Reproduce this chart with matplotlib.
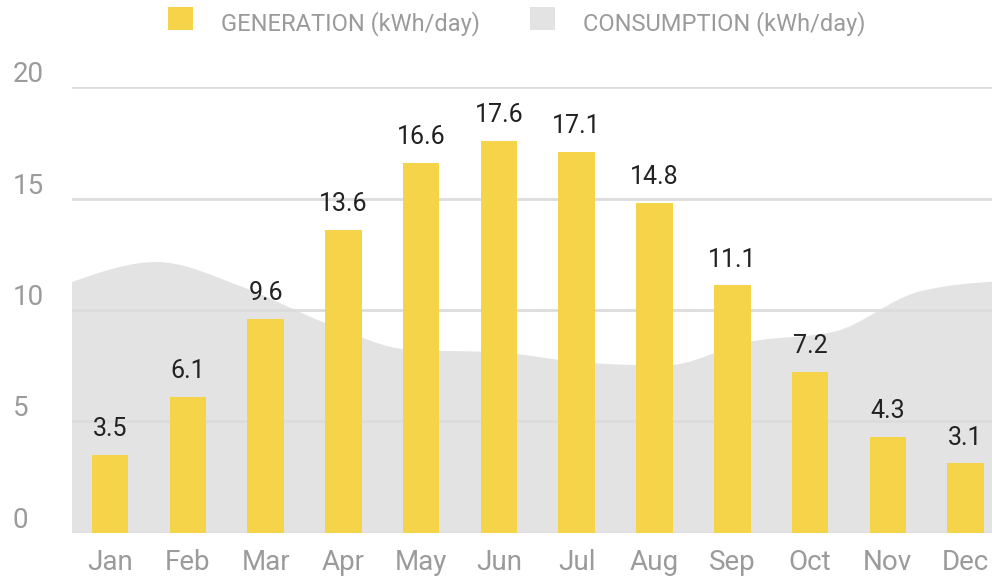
import numpy as np
import matplotlib
matplotlib.use("Agg")
from matplotlib import pyplot as plt
from matplotlib.path import Path
from matplotlib.patches import PathPatch, Rectangle
import matplotlib.transforms as mtransforms

# data
months = ["Jan", "Feb", "Mar", "Apr", "May", "Jun", "Jul", "Aug", "Sep", "Oct", "Nov", "Dec"]
generation = [3.5, 6.1, 9.6, 13.6, 16.6, 17.6, 17.1, 14.8, 11.1, 7.2, 4.3, 3.1]
# consumption is an area series of 12 points spread evenly over the whole plot width
consumption = [11.25, 12.15, 11.05, 9.4, 8.2, 8.1, 7.65, 7.5, 8.57, 9.02, 10.82, 11.3]
yticks = [0, 5, 10, 15, 20]

GEN_COLOR = "#F5D44A"
CON_COLOR = "#E3E3E3"
GRID_COLOR = "#DCDCDC"
LABEL_GRAY = "#9B9B9B"

plt.rcParams["font.family"] = ["Roboto", "DejaVu Sans"]


def monotone_path(xs, ys, base): # d3-style monotoneX curve as cubic beziers
  xs = np.asarray(xs, float); ys = np.asarray(ys, float)
  n = len(xs)
  h = np.diff(xs)
  s = np.diff(ys) / h
  t = np.zeros(n)
  for i in range(1, n-1):
    p = (s[i-1]*h[i] + s[i]*h[i-1]) / (h[i-1] + h[i])
    t[i] = (np.sign(s[i-1]) + np.sign(s[i])) * min(abs(s[i-1]), abs(s[i]), 0.5*abs(p))
  t[0] = (3*s[0] - t[1]) / 2
  t[-1] = (3*s[-1] - t[-2]) / 2
  verts = [(xs[0], base), (xs[0], ys[0])]
  codes = [Path.MOVETO, Path.LINETO]
  for i in range(n-1):
    dx = h[i] / 3
    verts += [(xs[i]+dx, ys[i]+dx*t[i]), (xs[i+1]-dx, ys[i+1]-dx*t[i+1]), (xs[i+1], ys[i+1])]
    codes += [Path.CURVE4]*3
  verts += [(xs[-1], base), (xs[0], base)]
  codes += [Path.LINETO, Path.CLOSEPOLY]
  return Path(verts, codes)


fig = plt.figure(figsize=(9.92, 5.76), dpi=100)
W, H = 992.0, 576.0
ax = fig.add_axes([72/W, (H-532.5)/H, 920/W, (532.5-87.3)/H])

x = np.arange(len(months))
xlo, xhi = -0.49, 11.34
ax.set_xlim(xlo, xhi)
ax.set_ylim(0, 20)

cx = np.linspace(xlo, 2*(len(months)-1)/2 - xlo, len(consumption))
ax.add_patch(PathPatch(monotone_path(cx, consumption, 0), facecolor=CON_COLOR,
                       edgecolor="none", zorder=0.5, clip_on=True))

for v in yticks:
  ax.axhline(v, color=GRID_COLOR, lw=2, zorder=1)

bars = ax.bar(x, generation, width=0.47, color=GEN_COLOR, zorder=2)

for xi, v in zip(x, generation):
  ax.annotate(f"{v}", (xi, v), xytext=(0, 13.5), textcoords="offset points",
              ha="center", va="baseline", fontsize=18, color="#222222")

for s in ax.spines.values():
  s.set_visible(False)
ax.set_yticks([])
ax.set_xticks(x)
ax.set_xticklabels(months)
ax.tick_params(axis="x", length=0, pad=12, labelsize=20, labelcolor=LABEL_GRAY)

# y labels sit left-aligned at the figure edge, just above their grid lines
ytr = mtransforms.blended_transform_factory(fig.transFigure, ax.transData)
ytr = ytr + mtransforms.ScaledTranslation(0, 5/100, fig.dpi_scale_trans)
for v in yticks:
  ax.text(13/W, v, str(v), transform=ytr, ha="left", va="baseline",
          fontsize=20, color=LABEL_GRAY)

# legend
legend_items = [("GENERATION (kWh/day)", GEN_COLOR, 168), ("CONSUMPTION (kWh/day)", CON_COLOR, 530)]
for txt, col, px in legend_items:
  fig.patches.append(Rectangle((px/W, (H-30)/H), 25/W, 23/H, transform=fig.transFigure,
                               facecolor=col, edgecolor="none", figure=fig))
  fig.text((px+53)/W, (H-30)/H, txt, ha="left", va="baseline", fontsize=17, color=LABEL_GRAY)

fig.savefig("out.png", dpi=100)
